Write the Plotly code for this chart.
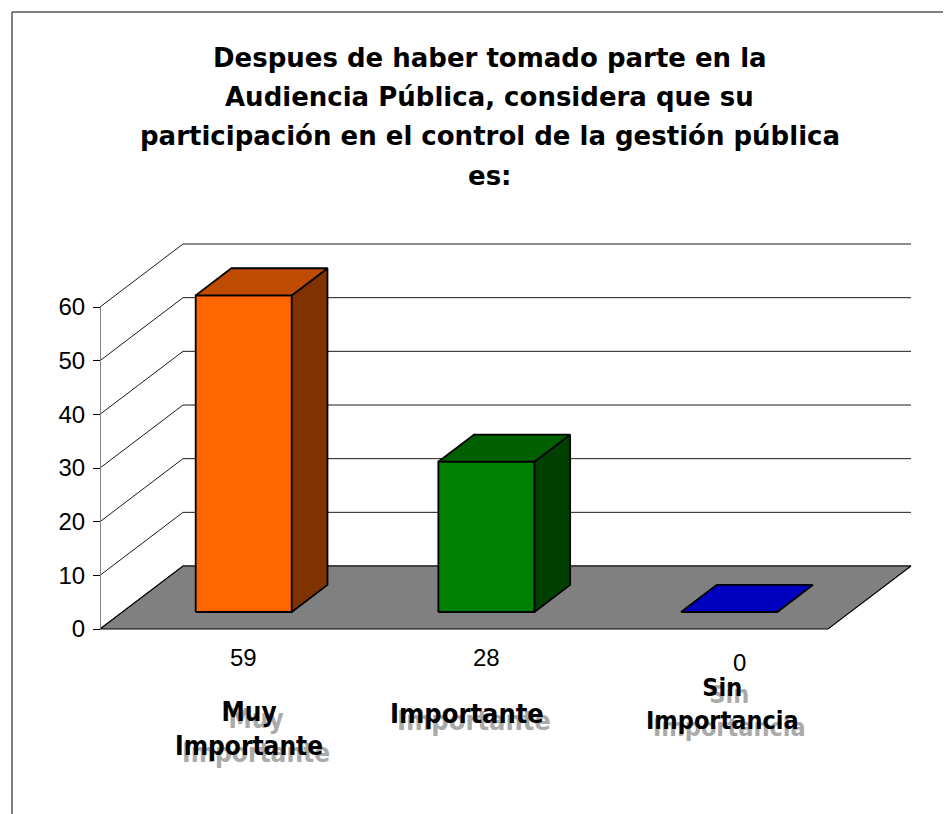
import plotly.graph_objects as go

# ---------------- data ----------------
categories = ["Muy<br>Importante", "Importante", "Sin<br>Importancia"]
values = [59, 28, 0]
value_labels = ["59", "28", "0"]
y_ticks = [0, 10, 20, 30, 40, 50, 60]
title_lines = [
    "Despues de haber tomado parte en la",
    "Audiencia Pública, considera que su",
    "participación en el control de la gestión pública",
    "es:",
]

# ---------------- styles ----------------
front_colors = ["#FF6600", "#008000", "#0000FF"]
top_colors = ["#BF4C00", "#006000", "#0000BF"]
side_colors = ["#803300", "#004000", "#000080"]

W, H = 951, 814
OFF = 8                          # page body margin compensation
X0_PX, X3_PX = 100 - OFF, 828 - OFF      # front floor edge (category axis)
Y0_PX, Y60_PX = 629 - OFF, 307 - OFF     # value 0 and value 60 on the front plane
n = len(categories)
px_per_x = (X3_PX - X0_PX) / n
px_per_v = (Y0_PX - Y60_PX) / 60.0
xmin = -X0_PX / px_per_x
xmax = xmin + W / px_per_x
ymin = -(H - Y0_PX) / px_per_v
ymax = ymin + H / px_per_v
DX = 83 / px_per_x               # full depth offset in data units
DY = 63 / px_per_v
D0, D1 = 0.27, 0.70              # bar depth span (fraction of floor depth)
HALF = 0.198                     # half bar width (category units)


def P(x, v, d):
    return x + d * DX, v + d * DY


def poly(pts, fill, width=1.8):
    xs = [p[0] for p in pts] + [pts[0][0]]
    ys = [p[1] for p in pts] + [pts[0][1]]
    return go.Scatter(x=xs, y=ys, mode="lines", fill="toself", fillcolor=fill,
                      line=dict(color="black", width=width),
                      hoverinfo="skip", showlegend=False)


fig = go.Figure()

# back wall + side wall gridlines
gx, gy = [], []
vmax = y_ticks[-1]
for t in y_ticks:
    a = P(0, t, 0); b = P(0, t, 1); c = P(n, t, 1)
    gx += [a[0], b[0], c[0], None]
    gy += [a[1], b[1], c[1], None]
fig.add_trace(go.Scatter(x=gx, y=gy, mode="lines",
                         line=dict(color="#1a1a1a", width=1),
                         hoverinfo="skip", showlegend=False))

# floor
fig.add_trace(poly([P(0, 0, 0), P(n, 0, 0), P(n, 0, 1), P(0, 0, 1)], "#808080", 1.2))

# bars
for i, v in enumerate(values):
    xc = i + 0.5
    xl, xr = xc - HALF, xc + HALF
    front = [P(xl, 0, D0), P(xr, 0, D0), P(xr, v, D0), P(xl, v, D0)]
    top = [P(xl, v, D0), P(xr, v, D0), P(xr, v, D1), P(xl, v, D1)]
    side = [P(xr, 0, D0), P(xr, 0, D1), P(xr, v, D1), P(xr, v, D0)]
    fig.add_trace(poly(front, front_colors[i]))
    fig.add_trace(poly(side, side_colors[i]))
    fig.add_trace(poly(top, top_colors[i]))

# invisible trace to carry the value axis
fig.add_trace(go.Scatter(x=[0], y=[0], xaxis="x", yaxis="y2", mode="markers",
                         marker=dict(opacity=0), hoverinfo="skip", showlegend=False))

annotations = []
# title
title_y_px = [58, 97, 136, 176]
for line, ypx in zip(title_lines, title_y_px):
    annotations.append(dict(text="<b>" + line + "</b>", x=(490 - OFF) / W,
                            y=1 - (ypx - OFF) / H,
                            xref="paper", yref="paper", showarrow=False,
                            xanchor="center", yanchor="middle",
                            font=dict(family="DejaVu Sans", size=26, color="black")))

# value labels
value_dx = [0, 0, 10]
value_dy = [-28, -28, -33]
for i, lab in enumerate(value_labels):
    x, _ = P(i + 0.5, 0, D0)
    annotations.append(dict(text=lab, x=x, y=0, xref="x", yref="y", showarrow=False,
                            xanchor="center", yanchor="middle",
                            xshift=value_dx[i], yshift=value_dy[i],
                            font=dict(family="Liberation Sans", size=24, color="black")))

# category labels
label_dx = [5, -19, -7]
label_dy = [-100, -84, -75]
label_size = [26, 27, 25]
for i, cat in enumerate(categories):
    x, _ = P(i + 0.5, 0, D0)
    annotations.append(dict(text="<b>" + cat + "</b>", x=x, y=0, xref="x", yref="y",
                            showarrow=False, xanchor="center", yanchor="middle",
                            xshift=label_dx[i], yshift=label_dy[i], align="center",
                            font=dict(family="DejaVu Sans Condensed", size=label_size[i],
                                      color="black", shadow="7px 7px 0px #aaaaaa")))

fig.update_layout(
    template="none",
    width=W, height=H, autosize=False,
    margin=dict(l=0, r=0, t=0, b=0, pad=0, autoexpand=False),
    paper_bgcolor="white", plot_bgcolor="rgba(0,0,0,0)",
    showlegend=False,
    xaxis=dict(range=[xmin, xmax], visible=False, fixedrange=True, automargin=False),
    yaxis=dict(range=[ymin, ymax], visible=False, fixedrange=True, automargin=False),
    yaxis2=dict(range=[0, vmax], domain=[(H - Y0_PX) / H, (H - Y60_PX) / H],
                anchor="free", position=(0 - xmin) / (xmax - xmin), automargin=False,
                tickvals=y_ticks, ticks="outside", ticklen=7, tickcolor="black",
                showline=True, linecolor="#808080", linewidth=1,
                showgrid=False, zeroline=False, ticklabelstandoff=3,
                tickfont=dict(family="Liberation Sans", size=24, color="black"),
                fixedrange=True),
    annotations=annotations,
    shapes=[dict(type="rect", xref="paper", yref="paper",
                 x0=(12 - OFF) / W, x1=1.05, y0=-0.05, y1=1 - (12 - OFF) / H,
                 line=dict(color="black", width=1), fillcolor="rgba(0,0,0,0)")],
)

fig.write_html("out.html")
